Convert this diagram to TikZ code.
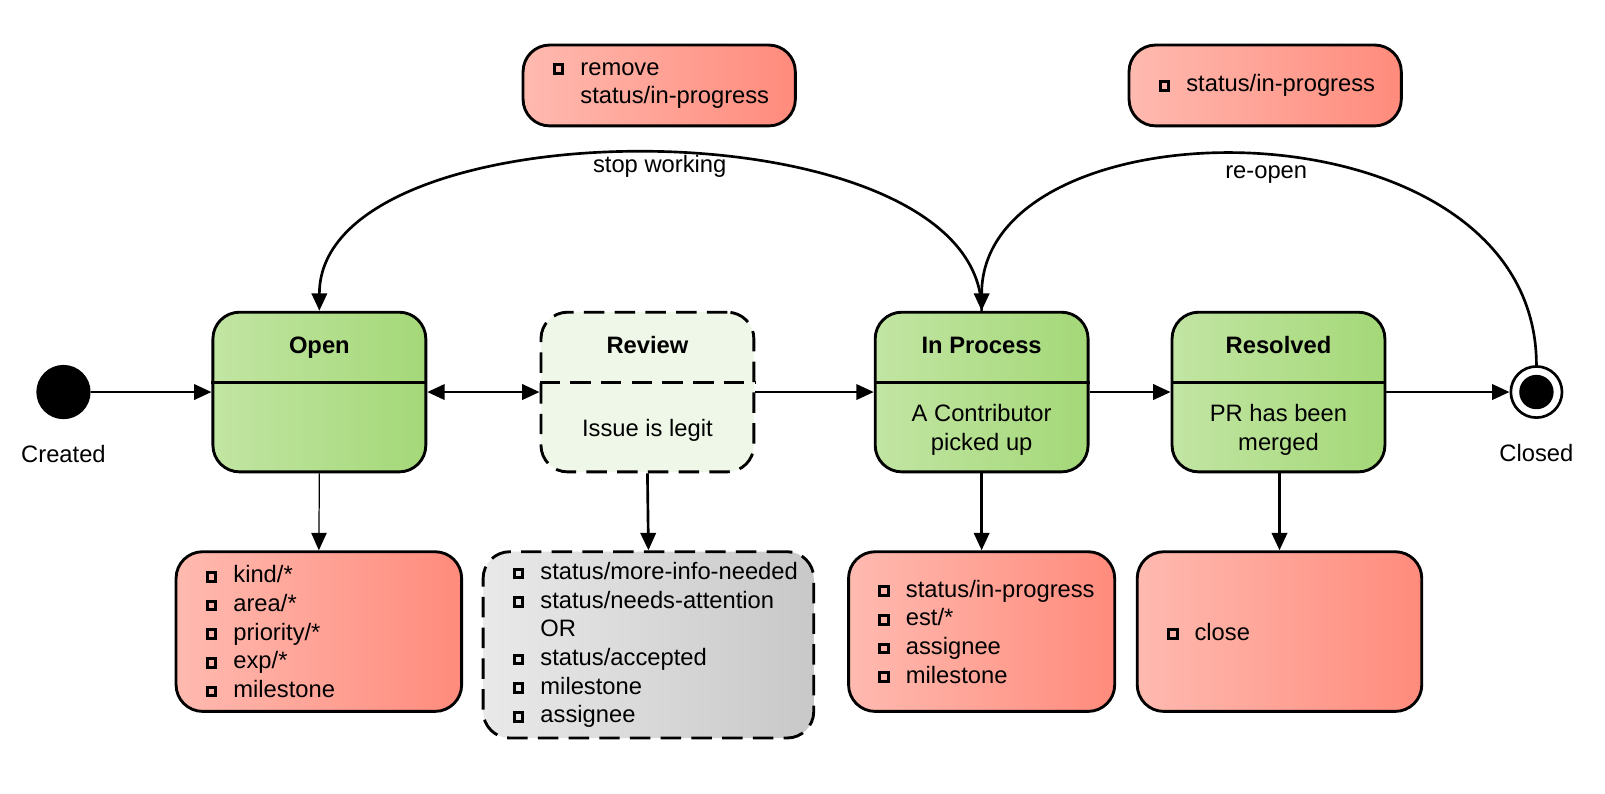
\documentclass[tikz,border=0pt]{standalone}
\usepackage{fontspec}
\setmainfont{Liberation Sans}
\usetikzlibrary{positioning,arrows.meta}

\definecolor{stateL}{RGB}{194,229,163}
\definecolor{stateR}{RGB}{164,216,120}
\definecolor{reviewbg}{RGB}{239,248,232}
\definecolor{lblL}{RGB}{255,186,176}
\definecolor{lblR}{RGB}{255,139,124}
\definecolor{grayL}{RGB}{233,233,233}
\definecolor{grayR}{RGB}{200,200,200}

\hyphenpenalty=10000
\exhyphenpenalty=10000

\newcommand\lblfont{\fontsize{11.6}{14}\selectfont}
\newcommand\bx{\raisebox{1.5pt}{\setlength{\fboxsep}{0pt}\setlength{\fboxrule}{1.5pt}\fbox{\rule{0pt}{2.7pt}\hspace{2.7pt}}}}
\newcommand\itm{\makebox[13.5pt][l]{\bx}}
\newcommand\noitm{\makebox[13.5pt]{}}

\tikzset{
  >={Triangle[length=8.5pt,width=7.5pt]},
  every node/.style={font=\lblfont},
  title/.style={font=\lblfont\bfseries, text height=8.4pt, text depth=0pt},
  trans/.style={->, line width=1.3pt},
  basebox/.style={draw, line width=1.4pt, rounded corners=13pt, minimum width=104pt, minimum height=78pt},
  statebox/.style={basebox, left color=stateL, right color=stateR},
  statebox rule/.style={line width=1.3pt},
  reviewbox/.style={basebox, fill=reviewbg, dash pattern=on 10pt off 5pt},
  reviewbox rule/.style={line width=1.3pt, dash pattern=on 10pt off 5pt},
  lblbox/.style={draw, line width=1.4pt, rounded corners=13pt, left color=lblL, right color=lblR, align=left, inner xsep=14.5pt, minimum height=78pt},
  graybox/.style={lblbox, left color=grayL, right color=grayR, dash pattern=on 10pt off 5pt},
  initial/.style={circle, fill=black, minimum size=26.5pt, inner sep=0pt},
  final/.style={circle, draw, line width=1.3pt, fill=white, minimum size=25pt, inner sep=0pt,
    path picture={\fill[black] (path picture bounding box.center) circle (8.4pt);}}
}

% name, style, position, title, activity
\newcommand\statenode[5]{%
  \node[#2] (#1) at (#3) {};
  \draw[#2 rule] ([yshift=4.5pt]#1.west) -- ([yshift=4.5pt]#1.east);
  \node[title] (#1 title) at ([yshift=23pt]#1.center) {#4};
  \node[align=center] (#1 text) at ([yshift=-18.5pt]#1.center) {#5};
}

\begin{document}
\begin{tikzpicture}[x=0.5pt,y=-0.5pt]
\useasboundingbox (0,0) rectangle (1568,775);

\node[initial] (created) at (62,383) {};
\node[below=9pt of created] (created label) {Created};

\statenode{open}{statebox}{312,383}{Open}{}
\statenode{review}{reviewbox}{632.5,383}{Review}{Issue is legit}
\statenode{inproc}{statebox}{959,383}{In Process}{A Contributor\\picked up}
\statenode{resolved}{statebox}{1249,383}{Resolved}{PR has been\\merged}

\node[final] (closed) at (1501,383) {};
\node[below=9pt of closed] (closed label) {Closed};

\node[lblbox, text width=110.5pt] (openlbl) at (311.5,617)
  {\itm kind/*\\\itm area/*\\\itm priority/*\\\itm exp/*\\\itm milestone};
\node[graybox, text width=132.5pt, minimum height=91pt] (reviewlbl) at (633.5,630)
  {\itm status/more-info-needed\\\itm status/needs-attention\\\noitm OR\\\itm status/accepted\\\itm milestone\\\itm assignee};
\node[lblbox, text width=101pt] (inproclbl) at (959,617)
  {\itm status/in-progress\\\itm est/*\\\itm assignee\\\itm milestone};
\node[lblbox, text width=110pt] (resolvedlbl) at (1250,617)
  {\itm close};

\node[lblbox, text width=104pt, minimum height=39.5pt] (stoplbl) at (644,83.5)
  {\itm remove\\\noitm status/in-progress};
\node[lblbox, text width=104pt, minimum height=39.5pt] (reopenlbl) at (1236,83.5)
  {\itm status/in-progress};

\draw[trans] (created) -- (open);
\draw[trans, <->] (open) -- (review);
\draw[trans] (review) -- (inproc);
\draw[trans] (inproc) -- (resolved);
\draw[trans] (resolved) -- (closed);

\draw[trans, line width=0.6pt] (open.south) -- (openlbl.north);
\draw[trans] (review.south) -- (reviewlbl.north);
\draw[trans] (inproc.south) -- (inproclbl.north);
\draw[trans] (resolved.south -| resolvedlbl.north) -- (resolvedlbl.north);

\draw[trans] (inproc.north) .. controls +(0,-205) and +(0,-205) .. (open.north)
  node[pos=.5, xshift=4.5pt, yshift=-6.5pt] (stop) {stop working};
\draw[trans] (closed.north) .. controls +(0,-265) and +(0,-210) .. (inproc.north)
  node[pos=.5, xshift=3.5pt, yshift=-9.5pt] (reopen) {re-open};
\end{tikzpicture}
\end{document}
